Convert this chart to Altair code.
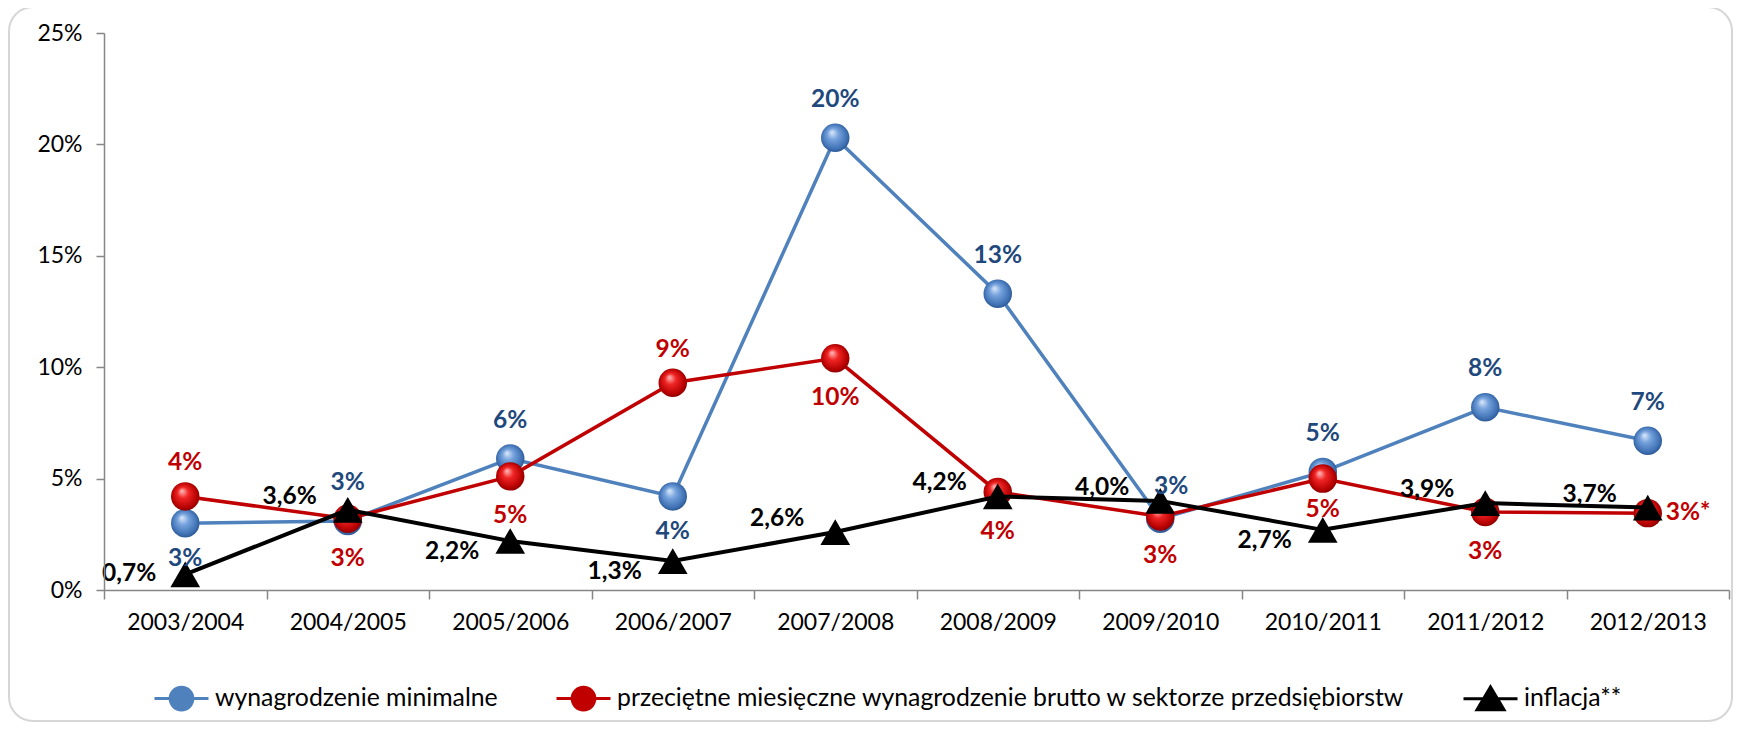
import altair as alt
import pandas as pd

categories = ["2003/2004", "2004/2005", "2005/2006", "2006/2007", "2007/2008",
              "2008/2009", "2009/2010", "2010/2011", "2011/2012", "2012/2013"]
series_names = ["wynagrodzenie minimalne",
                "przeciętne miesięczne wynagrodzenie brutto w sektorze przedsiębiorstw",
                "inflacja**"]
min_wage = [3.0, 3.1, 5.9, 4.2, 20.3, 13.3, 3.2, 5.3, 8.2, 6.7]
avg_wage = [4.2, 3.2, 5.1, 9.3, 10.4, 4.4, 3.3, 5.0, 3.5, 3.45]
inflation = [0.7, 3.6, 2.2, 1.3, 2.6, 4.2, 4.0, 2.7, 3.9, 3.7]
min_wage_labels = ["3%", "3%", "6%", "4%", "20%", "13%", "3%", "5%", "8%", "7%"]
avg_wage_labels = ["4%", "3%", "5%", "9%", "10%", "4%", "3%", "5%", "3%", "3%*"]
inflation_labels = ["0,7%", "3,6%", "2,2%", "1,3%", "2,6%", "4,2%", "4,0%", "2,7%", "3,9%", "3,7%"]
min_wage_label_pos = ["below", "above", "above", "below", "above", "above", "aboveright", "above", "above", "above"]
avg_wage_label_pos = ["above", "below", "below", "above", "below", "below", "below", "belowclose", "below", "right"]
inflation_label_pos = ["left", "upleft", "downleft", "downleft", "upleft", "upleft", "upleft", "downleft", "upleft", "upleft"]
y_ticks = [0, 5, 10, 15, 20, 25]

line_colors = ["#4F81BD", "#C00000", "#000000"]
label_colors = ["#1F497D", "#C00000", "#000000"]

frames = []
for name, vals, labs, pos in [
    (series_names[0], min_wage, min_wage_labels, min_wage_label_pos),
    (series_names[1], avg_wage, avg_wage_labels, avg_wage_label_pos),
    (series_names[2], inflation, inflation_labels, inflation_label_pos),
]:
    frames.append(pd.DataFrame({"cat": categories, "series": name, "value": vals,
                                "label": labs, "pos": pos}))
df = pd.concat(frames, ignore_index=True)

FONT = "Lato"
W, H = 1625, 557

x_enc = alt.X("cat:N", sort=categories, bandPosition=0.5,
              scale=alt.Scale(type="band", paddingInner=0, paddingOuter=0),
              axis=alt.Axis(title=None, labelAngle=0, tickBand="extent", tickSize=9,
                            labelPadding=12, labelFont=FONT, labelFontSize=23,
                            labelColor="#000000", domainColor="#868686", tickColor="#868686",
                            domainWidth=1.5, tickWidth=1.5, grid=False, zindex=1))
y_enc = alt.Y("value:Q", scale=alt.Scale(domain=[0, 25], nice=False, zero=True),
              axis=alt.Axis(title=None, values=y_ticks, labelExpr="datum.value + '%'",
                            tickSize=8, labelPadding=14, labelFont=FONT, labelFontSize=23,
                            labelColor="#000000", domainColor="#868686", tickColor="#868686",
                            domainWidth=1.5, tickWidth=1.5, grid=False, zindex=1))

circle_path = "M-1,0L1,0M0.42,0A0.42,0.42,0,1,1,-0.42,0A0.42,0.42,0,1,1,0.42,0Z"
tri_path = "M-1,0L1,0M0,-0.44L0.5,0.4L-0.5,0.4Z"

legend = alt.Legend(
    title=None, orient="none", legendX=49, legendY=637, direction="horizontal",
    symbolSize=2916, symbolStrokeWidth=3, labelFont=FONT, labelFontSize=24.8,
    labelColor="#000000", columnPadding=52, labelOffset=5, padding=0, labelLimit=1000,
    symbolOpacity=1,
    symbolType={"expr": f"datum.value === 'inflacja**' ? '{tri_path}' : '{circle_path}'"},
    symbolStrokeColor={"expr": "scale('color', datum.value)"},
)
color_scale = alt.Scale(domain=series_names, range=line_colors)


def sphere(c0, c1, c2, c3):
    return {"gradient": "radial", "x1": 0.38, "y1": 0.3, "r1": 0.0,
            "x2": 0.5, "y2": 0.5, "r2": 0.56,
            "stops": [{"offset": 0, "color": c0}, {"offset": 0.35, "color": c1},
                      {"offset": 0.8, "color": c2}, {"offset": 1, "color": c3}]}


fills = [sphere("#dfeafa", "#76a3dd", "#3d6fb2", "#234a80"),
         sphere("#ffc0c0", "#f02424", "#b40000", "#700000"),
         None]

base = alt.Chart(df)
frame = alt.Chart(pd.DataFrame({"a": [0]})).mark_rect(
    cornerRadius=24, fill="#ffffff", fillOpacity=0, stroke="#d6d6d6", strokeWidth=2
).encode(x=alt.value(-95), x2=alt.value(1628), y=alt.value(-26), y2=alt.value(688))

layers = [frame]
# invisible layer that only carries the legend
layers.append(base.mark_point(filled=True, opacity=0).encode(
    x=x_enc, y=y_enc, color=alt.Color("series:N", scale=color_scale, legend=legend)))

for i, name in enumerate(series_names):
    sub = base.transform_filter(alt.datum.series == name)
    layers.append(sub.mark_line(strokeWidth=4 if i == 2 else 3.5).encode(
        x=x_enc, y=y_enc, color=alt.Color("series:N", scale=color_scale, legend=None)))
    if i < 2:
        layers.append(sub.mark_point(filled=True, shape="circle", size=810, fill=fills[i],
                                     opacity=1, strokeWidth=0).encode(x=x_enc, y=y_enc))
    else:
        layers.append(sub.mark_point(filled=True, shape="triangle-up", size=880,
                                     fill="#000000", opacity=1, strokeWidth=0).encode(x=x_enc, y=y_enc))

offsets = {
    (0, "above"): dict(dx=0, dy=-38, align="center"),
    (0, "aboveright"): dict(dx=11, dy=-32, align="center"),
    (0, "below"): dict(dx=0, dy=36, align="center"),
    (1, "above"): dict(dx=0, dy=-33, align="center"),
    (1, "below"): dict(dx=0, dy=40, align="center"),
    (1, "belowclose"): dict(dx=0, dy=31, align="center"),
    (1, "right"): dict(dx=18, dy=0, align="left"),
    (2, "left"): dict(dx=-29, dy=0, align="right"),
    (2, "upleft"): dict(dx=-31, dy=-13, align="right"),
    (2, "downleft"): dict(dx=-31, dy=11, align="right"),
}
for (i, p), o in offsets.items():
    sub = base.transform_filter((alt.datum.series == series_names[i]) & (alt.datum.pos == p))
    layers.append(sub.mark_text(font=FONT, fontSize=24.5, fontWeight="bold", color=label_colors[i],
                                baseline="middle", **o).encode(x=x_enc, y=y_enc, text="label:N"))

chart = alt.layer(*layers).properties(
    width=W, height=H,
    autosize=alt.AutoSizeParams(type="none"),
    padding={"left": 96, "top": 25, "right": 9, "bottom": 135},
    background="#ffffff",
).configure_view(stroke=None)

chart.save("out.html", embed_options={"renderer": "svg", "actions": False})
